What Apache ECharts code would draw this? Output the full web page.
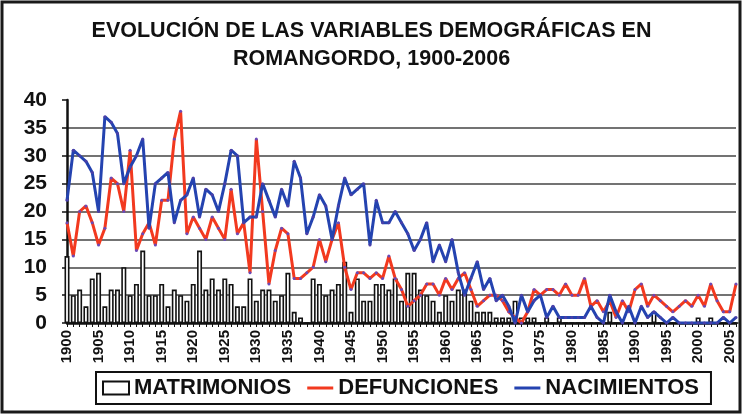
<!DOCTYPE html>
<html>
<head>
<meta charset="utf-8">
<title>Romangordo 1900-2006</title>
<script src="https://cdn.jsdelivr.net/npm/echarts@6/dist/echarts.min.js"></script>
<style>
  html, body { margin: 0; padding: 0; background: #fff; }
  #chart { width: 743px; height: 415px; }
</style>
</head>
<body>
<div id="chart"></div>
<script>
// Years 1900-2006
const years = [];
for (let y = 1900; y <= 2006; y++) years.push(String(y));

// Marriages per year
const matrimonios = [
  12, 5, 6, 3, 8, 9, 3, 6, 6, 10,
  5, 7, 13, 5, 5, 7, 3, 6, 5, 4,
  7, 13, 6, 8, 6, 8, 7, 3, 3, 8,
  4, 6, 6, 4, 5, 9, 2, 1, 0, 8,
  7, 5, 6, 7, 11, 2, 8, 4, 4, 7,
  7, 6, 8, 4, 9, 9, 6, 5, 4, 2,
  5, 4, 6, 6, 4, 2, 2, 2, 1, 1,
  1, 4, 1, 1, 1, 0, 1, 0, 1, 0,
  0, 0, 0, 0, 0, 0, 2, 0, 0, 0,
  0, 0, 0, 2, 0, 0, 0, 0, 0, 0,
  1, 0, 1, 0, 0, 0, 0
];

// Deaths per year
const defunciones = [
  18, 12, 20, 21, 18, 14, 17, 26, 25, 20,
  31, 13, 16, 18, 14, 22, 22, 33, 38, 16,
  19, 17, 15, 19, 17, 15, 24, 16, 18, 9,
  33, 20, 7, 13, 17, 16, 8, 8, 9, 10,
  15, 11, 15, 18, 10, 6, 9, 9, 8, 9,
  8, 12, 8, 6, 3, 4, 5, 7, 7, 5,
  8, 6, 8, 9, 6, 3, 4, 5, 5, 4,
  2, 1, 0, 2, 6, 5, 6, 6, 5, 7,
  5, 5, 8, 3, 4, 2, 4, 1, 4, 2,
  6, 7, 3, 5, 4, 3, 2, 3, 4, 3,
  5, 3, 7, 4, 2, 2, 7
];

// Births per year
const nacimientos = [
  22, 31, 30, 29, 27, 20, 37, 36, 34, 25,
  28, 30, 33, 17, 25, 26, 27, 18, 22, 23,
  26, 19, 24, 23, 20, 25, 31, 30, 18, 19,
  19, 25, 22, 19, 24, 21, 29, 26, 16, 19,
  23, 21, 15, 21, 26, 23, 24, 25, 14, 22,
  18, 18, 20, 18, 16, 13, 15, 18, 11, 14,
  11, 15, 9, 5, 8, 11, 6, 8, 4, 5,
  3, 0, 5, 2, 4, 5, 1, 3, 1, 1,
  1, 1, 1, 3, 1, 0, 5, 2, 0, 3,
  0, 3, 1, 2, 1, 0, 1, 0, 0, 0,
  0, 0, 0, 0, 1, 0, 1
];

const yTicks = { min: 0, max: 40, step: 5 };

const FONT = '"Liberation Sans", Arial, sans-serif';
const RED = '#f2391f';
const BLUE = '#2443b0';

// Legend key for the line series: a 3px stroke centred in a 26x13 box
const LINE_KEY = 'path://M0,0 L0.01,0 M0,5 L26,5 L26,8 L0,8 Z M26,13 L25.99,13';

const chart = echarts.init(document.getElementById('chart'), null, { renderer: 'canvas' });

chart.setOption({
  backgroundColor: '#ffffff',
  animation: false,
  graphic: [{
    type: 'rect',
    shape: { x: 2, y: 2, width: 738, height: 410 },
    style: { fill: 'none', stroke: '#1a1a1a', lineWidth: 3 },
    silent: true
  }],
  title: {
    text: 'EVOLUCIÓN DE LAS VARIABLES DEMOGRÁFICAS EN\nROMANGORDO, 1900-2006',
    left: 'center',
    top: 12,
    textStyle: {
      fontFamily: FONT,
      fontWeight: 'bold',
      fontSize: 21.5,
      lineHeight: 28,
      color: '#111'
    }
  },
  legend: {
    left: 96,
    top: 372,
    width: 616,
    padding: [5, 12, 5, 6],
    borderColor: '#111',
    borderWidth: 2,
    itemWidth: 26,
    itemHeight: 13,
    itemGap: 16,
    textStyle: {
      fontFamily: FONT,
      fontWeight: 'bold',
      fontSize: 22,
      color: '#111'
    },
    data: [
      { name: 'MATRIMONIOS', icon: 'rect' },
      { name: 'DEFUNCIONES', icon: LINE_KEY, itemStyle: { color: RED } },
      { name: 'NACIMIENTOS', icon: LINE_KEY, itemStyle: { color: BLUE } }
    ]
  },
  grid: {
    left: 67,
    right: 7,
    top: 100,
    bottom: 92,
    containLabel: false
  },
  xAxis: {
    type: 'category',
    data: years,
    boundaryGap: false,
    axisLine: { lineStyle: { color: '#111', width: 2.5 } },
    axisTick: { show: true, interval: 0, length: 4, lineStyle: { color: '#111', width: 1 } },
    axisLabel: {
      interval: 4,
      rotate: 90,
      margin: 7,
      fontFamily: FONT,
      fontWeight: 'bold',
      fontSize: 15,
      color: '#111'
    },
    splitLine: { show: false }
  },
  yAxis: {
    type: 'value',
    min: yTicks.min,
    max: yTicks.max,
    interval: yTicks.step,
    axisLine: { show: true, lineStyle: { color: '#111', width: 2.5 } },
    axisTick: { show: true, length: 5, lineStyle: { color: '#111', width: 1.5 } },
    axisLabel: {
      margin: 20,
      fontFamily: FONT,
      fontWeight: 'bold',
      fontSize: 21,
      color: '#111'
    },
    splitLine: {
      show: true,
      lineStyle: {
        width: 1.6,
        color: ['#444', '#444', '#444', '#444', '#444', '#444', '#444', '#444', 'rgba(0,0,0,0)']
      }
    }
  },
  series: [
    {
      name: 'MATRIMONIOS',
      type: 'bar',
      data: matrimonios,
      barWidth: 5,
      itemStyle: { color: '#ffffff', borderColor: '#111', borderWidth: 1.6 },
      z: 2
    },
    {
      name: 'DEFUNCIONES',
      type: 'line',
      data: defunciones,
      symbol: 'circle',
      symbolSize: 3,
      showAllSymbol: true,
      lineStyle: { color: RED, width: 3 },
      itemStyle: { color: '#6a4ab8' },
      z: 3
    },
    {
      name: 'NACIMIENTOS',
      type: 'line',
      data: nacimientos,
      symbol: 'circle',
      symbolSize: 3,
      showAllSymbol: true,
      lineStyle: { color: BLUE, width: 3 },
      itemStyle: { color: '#4a3fa8' },
      z: 4
    }
  ]
});
</script>
</body>
</html>
